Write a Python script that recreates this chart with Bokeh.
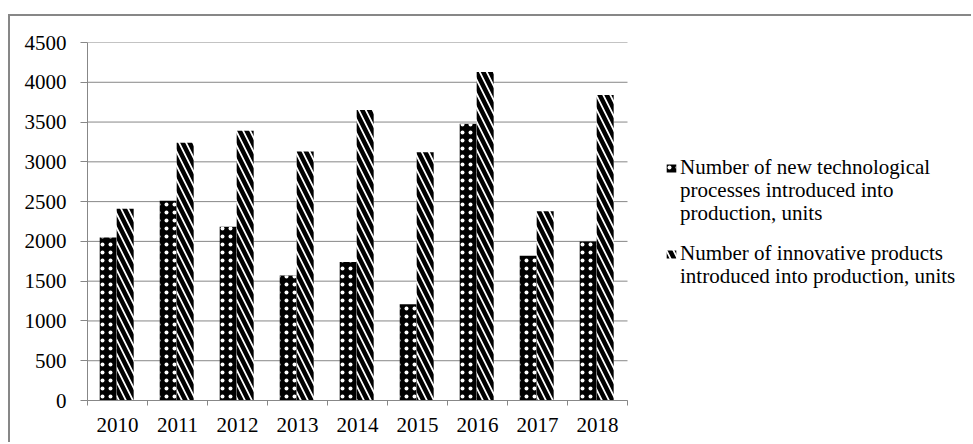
from bokeh.plotting import figure
from bokeh.models import ColumnDataSource, Range1d, FixedTicker, Legend, LegendItem
from bokeh.transform import dodge
from bokeh.embed import file_html
from bokeh.resources import INLINE

# Yearly counts, units
years = ["2010", "2011", "2012", "2013", "2014", "2015", "2016", "2017", "2018"]
processes = [2050, 2510, 2185, 1570, 1740, 1210, 3480, 1820, 2000]
products = [2410, 3240, 3390, 3130, 3650, 3120, 4130, 2380, 3840]
y_ticks = [0, 500, 1000, 1500, 2000, 2500, 3000, 3500, 4000, 4500]

label_processes = ["Number of new technological", "processes introduced into", "production, units"]
label_products = ["Number of innovative products", "introduced into production, units"]

GRAY = "#878787"
FONT = "Liberation Serif"
FONT_SIZE = "21px"

# the frame also hosts the legend on the right; each year gets a 60 px slot
SLOT_PX = 60
FRAME_PX = 886
n = len(years)
x_end = FRAME_PX / SLOT_PX

centers = [i + 0.5 for i in range(n)]
src = ColumnDataSource(dict(x=centers, processes=processes, products=products))
grid_src = ColumnDataSource(dict(y=y_ticks, x0=[0] * len(y_ticks), x1=[n] * len(y_ticks)))

p = figure(width=963, height=428,
           x_range=Range1d(0, x_end), y_range=Range1d(0, 4500),
           output_backend="svg", toolbar_location=None,
           min_border_left=77, min_border_right=0,
           min_border_top=26, min_border_bottom=44,
           margin=(14, 0, 0, 8))
p.styles = {"border-left": f"2px solid {GRAY}", "border-top": f"2px solid {GRAY}"}
p.outline_line_color = None
p.background_fill_color = "white"
p.border_fill_color = "white"

# horizontal gridlines only across the year slots
p.xgrid.grid_line_color = None
p.ygrid.grid_line_color = None
p.segment(x0="x0", x1="x1", y0="y", y1="y", source=grid_src, line_color=GRAY, line_width=1)

r1 = p.vbar(x=dodge("x", -0.155), top="processes", width=0.283, bottom=0, source=src,
            fill_color="black", line_color=None,
            hatch_pattern="dot", hatch_color="white", hatch_scale=8, hatch_weight=1)
r2 = p.vbar(x=dodge("x", 0.128), top="products", width=0.283, bottom=0, source=src,
            fill_color="white", line_color=None,
            hatch_pattern="left_diagonal_line", hatch_color="black",
            hatch_scale=14, hatch_weight=4.5)

# x axis: labels at slot centres, tick marks on slot boundaries
p.xaxis.bounds = (0, n)
p.xaxis.ticker = FixedTicker(ticks=centers, minor_ticks=list(range(n + 1)))
p.xaxis.major_label_overrides = {c: y for c, y in zip(centers, years)}
p.xaxis.major_tick_out = 0
p.xaxis.major_tick_in = 0
p.xaxis.minor_tick_out = 5
p.xaxis.minor_tick_in = 0
p.xaxis.minor_tick_line_color = GRAY
p.xaxis.major_label_standoff = 12

p.yaxis.ticker = FixedTicker(ticks=y_ticks, minor_ticks=[])
p.yaxis.major_tick_out = 7
p.yaxis.major_tick_in = 0
p.yaxis.minor_tick_line_color = None
p.yaxis.major_label_standoff = 14

for ax in (p.xaxis[0], p.yaxis[0]):
    ax.axis_line_color = GRAY
    ax.major_tick_line_color = GRAY
    ax.major_label_text_font = FONT
    ax.major_label_text_font_size = FONT_SIZE
    ax.major_label_text_color = "black"


def legend_line(text, renderers, y):
    # one legend row per text line, so each line can be placed exactly
    return Legend(items=[LegendItem(label=text, renderers=renderers)],
                  location=(578, y), margin=0, padding=0, spacing=0,
                  glyph_width=12, glyph_height=10, label_standoff=3, label_height=23,
                  label_text_font=FONT, label_text_font_size=FONT_SIZE,
                  label_text_line_height=1.0, label_text_color="black",
                  border_line_color=None, background_fill_alpha=0)


# swatch on the first line of each entry only
for i, (text, y) in enumerate(zip(label_processes, [220, 197, 174])):
    p.add_layout(legend_line(text, [r1] if i == 0 else [], y))
for i, (text, y) in enumerate(zip(label_products, [134, 111])):
    p.add_layout(legend_line(text, [r2] if i == 0 else [], y))

open("out.html", "w").write(file_html(p, INLINE))
